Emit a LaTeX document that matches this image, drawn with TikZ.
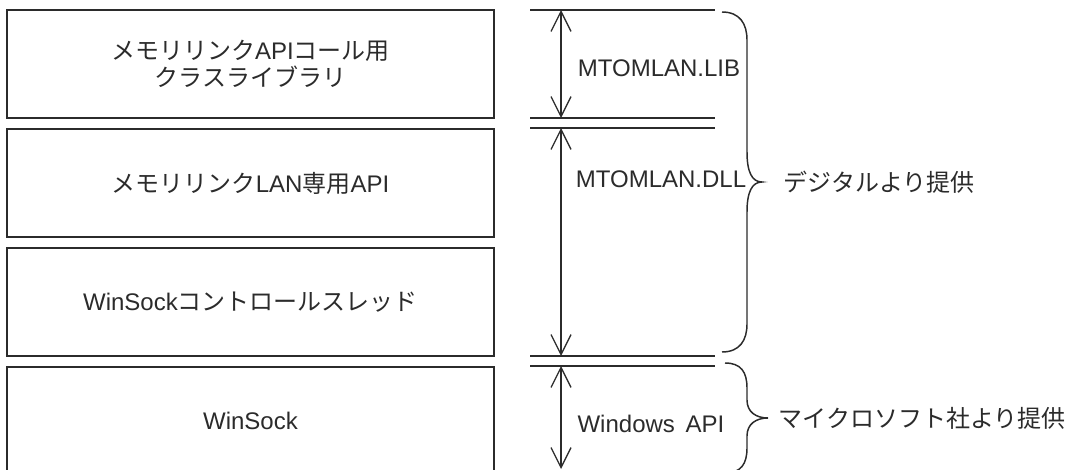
\documentclass[tikz,border=0pt]{standalone}
\usepackage{fontspec}
\setmainfont{Liberation Sans}
\newfontfamily\jpfont{Noto Sans CJK JP}
\usepackage{xcolor}
\usetikzlibrary{positioning,arrows.meta}
\definecolor{ink}{HTML}{2B2B2B}

\begin{document}
\begin{tikzpicture}[x=0.75pt, y=-0.75pt, node distance=6.75pt, color=ink, font=\fontsize{18}{20}\selectfont, layer/.style = {draw, line width=1.5pt, minimum width=365.25pt, minimum height=81pt, anchor=north west, align=center, inner sep=0pt}, dim/.style = {line width=1pt, {Straight Barb[length=15pt,width=15pt]}-{Straight Barb[length=15pt,width=15pt]}}, rule/.style = {line width=1.5pt}, curly/.style = {line width=1.1pt}]

\clip (0,0) rectangle (1071,470);

\node[layer] (lib) at (6,9) {{\jpfont メモリリンク}API{\jpfont コール用}\\{\jpfont クラスライブラリ}};
\node[layer] (lan) [below=of lib] {{\jpfont メモリリンク}LAN{\jpfont 専用}API};
\node[layer] (ctl) [below=of lan] {WinSock{\jpfont コントロールスレッド}};
\node[layer] (ws) [below=of ctl] {WinSock};

% boundary rules and dimension arrows
\foreach \y [count=\i] in {10,118,128,356,366} {
    \draw[rule] (530,\y) -- (715,\y);
    \coordinate (m\i) at (561,\y);
}
\coordinate (m6) at (561,469);

\draw[dim] (m1) -- (m2);
\draw[dim] (m3) -- (m4);
\draw[dim] (m5) -- (m6);

\node (libname) at (659,68) {MTOMLAN.LIB};
\node (dllname) at (661,179) {MTOMLAN.DLL};
\node (apiname) at (651,424) {Windows\hspace{0.45em}API};

% braces
\draw[curly] (722,12) .. controls (740,12) and (747,24) .. (747,40) -- (747,152)
    .. controls (747,172) and (752,182) .. (762,182)
    .. controls (752,182) and (747,192) .. (747,212) -- (747,324)
    .. controls (747,340) and (740,352) .. (722,352);
\draw[curly] (725,363) .. controls (741,363) and (747,372) .. (747,388) -- (747,400)
    .. controls (747,412) and (756,418) .. (768,418)
    .. controls (756,418) and (747,424) .. (747,436) -- (747,448)
    .. controls (747,464) and (741,473) .. (725,473);

\node[anchor=west] (digital) at (779,182) {\jpfont デジタルより提供};
\node[anchor=west] (microsoft) at (774,418) {\jpfont マイクロソフト社より提供};
\end{tikzpicture}
\end{document}
